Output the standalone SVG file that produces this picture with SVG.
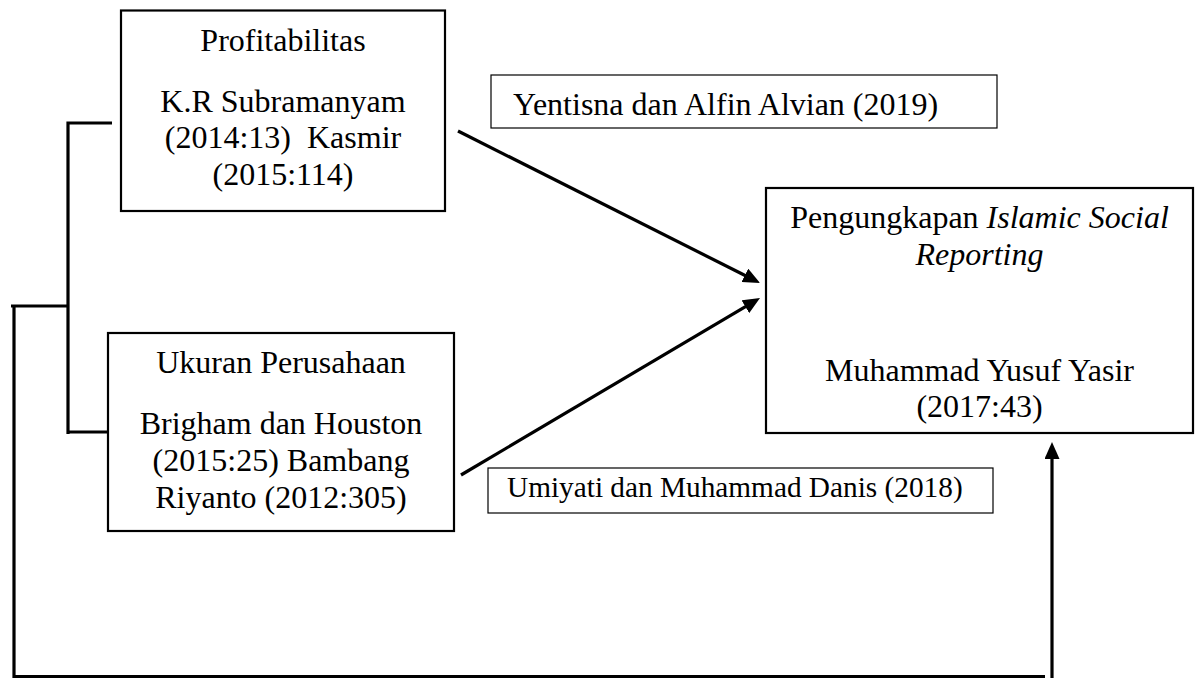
<svg xmlns="http://www.w3.org/2000/svg" width="1200" height="678" viewBox="0 0 1200 678">
  <style>
    text { font-family: "Liberation Serif", "Times New Roman", serif; fill: #000; }
    .t { font-size: 32px; text-anchor: middle; }
    .lbl { font-size: 32px; }
    .sm { font-size: 29.3px; }
    .box { fill: #fff; stroke: #000; stroke-width: 2.2; }
    .thin { fill: #fff; stroke: #000; stroke-width: 1.2; }
    .ln { fill: none; stroke: #000; stroke-width: 3.2; }
  </style>
  <defs>
    <marker id="ah" markerUnits="userSpaceOnUse" viewBox="0 0 17 15" refX="7" refY="7.5" markerWidth="17" markerHeight="15" orient="auto">
      <path d="M0,0 L17,7.5 L0,15 z" fill="#000"/>
    </marker>
  </defs>

  <g id="connectors">
    <polyline class="ln" points="112,123 68,123 68,434"/>
    <line class="ln" x1="68" y1="432" x2="112" y2="432"/>
    <line class="ln" x1="11" y1="306" x2="69" y2="306"/>
    <line class="ln" x1="14" y1="306" x2="14" y2="678"/>
    <line class="ln" x1="14" y1="676.5" x2="1045" y2="676.5"/>
    <line class="ln" x1="1052" y1="678" x2="1052" y2="452" marker-end="url(#ah)"/>
    <line class="ln" x1="458" y1="131" x2="751.1" y2="278.5" marker-end="url(#ah)"/>
    <line class="ln" x1="461" y1="475" x2="751.4" y2="303.1" marker-end="url(#ah)"/>
  </g>

  <g id="profitabilitas">
    <rect class="box" x="121" y="10.5" width="324" height="200.5"/>
    <text class="t" x="283" y="50.5">Profitabilitas</text>
    <text class="t" x="283" y="111.5">K.R Subramanyam</text>
    <text class="t" x="283" y="148" xml:space="preserve">(2014:13)  Kasmir</text>
    <text class="t" x="283" y="185">(2015:114)</text>
  </g>

  <g id="ukuran">
    <rect class="box" x="108" y="333" width="346" height="198"/>
    <text class="t" x="281" y="373">Ukuran Perusahaan</text>
    <text class="t" x="281" y="434">Brigham dan Houston</text>
    <text class="t" x="281" y="471">(2015:25) Bambang</text>
    <text class="t" x="281" y="508">Riyanto (2012:305)</text>
  </g>

  <g id="yentisna">
    <rect class="thin" x="491" y="75" width="506" height="53"/>
    <text class="lbl" x="513" y="115">Yentisna dan Alfin Alvian (2019)</text>
  </g>

  <g id="umiyati">
    <rect class="thin" x="488" y="468" width="505" height="45"/>
    <text class="sm" x="507" y="497">Umiyati dan Muhammad Danis (2018)</text>
  </g>

  <g id="isr">
    <rect class="box" x="766" y="188" width="427" height="245"/>
    <text class="t" x="979.5" y="228">Pengungkapan <tspan font-style="italic">Islamic Social</tspan></text>
    <text class="t" x="979.5" y="265" font-style="italic">Reporting</text>
    <text class="t" x="979.5" y="381">Muhammad Yusuf Yasir</text>
    <text class="t" x="979.5" y="417">(2017:43)</text>
  </g>
</svg>
